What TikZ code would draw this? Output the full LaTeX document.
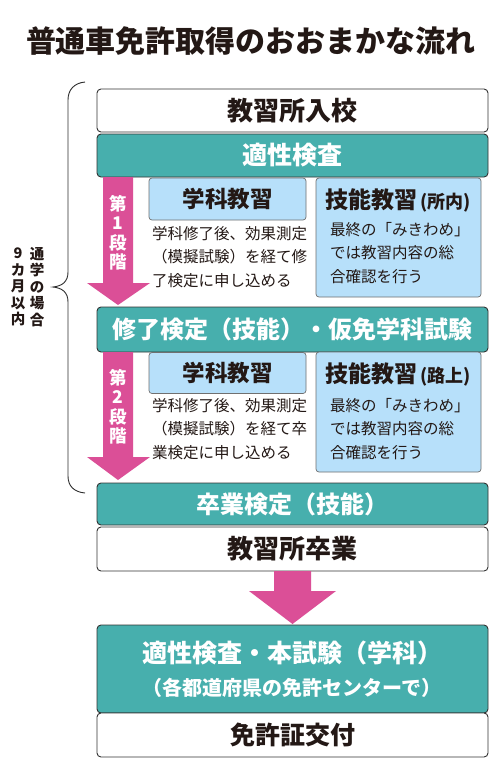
\documentclass[tikz,border=0pt]{standalone}
\usepackage{fontspec}
\setmainfont{Noto Sans CJK JP}
\definecolor{teal1}{HTML}{47AFAD}
\definecolor{pink1}{HTML}{DB4F97}
\definecolor{lblue}{HTML}{B7E0FA}
\definecolor{edge}{HTML}{333333}
\definecolor{txt}{HTML}{231815}
\tikzset{
  box/.style={draw=edge, line width=0.9pt, rounded corners=4pt, minimum width=391pt, inner sep=0pt, text=txt, font=\bfseries\fontsize{25}{28}\selectfont},
  whitebox/.style={box, fill=white},
  tealbox/.style={box, fill=teal1, text=white},
  bluebox/.style={draw=edge!70, line width=0.7pt, rounded corners=3pt, fill=lblue, inner sep=0pt},
  bodytxt/.style={text=txt, align=left, inner sep=0pt, font=\fontsize{15.5}{23.5}\selectfont},
  parrow/.style={fill=pink1, draw=none},
}
\begin{document}
\begin{tikzpicture}[x=1pt,y=-1pt]
\path[use as bounding box, fill=white] (0,0) rectangle (500,774);
% title
\node[text=txt, font=\bfseries\fontsize{30}{34}\selectfont] (title) at (251,41) {普通車免許取得のおおまかな流れ};
% main boxes
\node[whitebox, minimum height=43pt, font=\bfseries\fontsize{26}{28}\selectfont] (enroll) at (292.5,110.5) {教習所入校};
\node[tealbox, minimum height=43pt] (apt1) at (292.5,155.5) {適性検査};
% stage 1 arrow
\path[parrow] (103,177) -- (133,177) -- (133,283) -- (150,283) -- (118,305) -- (87,283) -- (103,283) -- cycle;
\node[text=white, font=\bfseries\fontsize{17.5}{19.5}\selectfont, align=center, inner sep=0pt] (st1) at (118,233) {第\\1\\段\\階};
% stage 1 boxes
\node[bluebox, minimum width=157pt, minimum height=42pt, font=\bfseries\fontsize{22.5}{25}\selectfont, text=txt] (gk1) at (227.5,199) {学科教習};
\node[bodytxt, anchor=north west] (gk1t) at (152,226) {学科修了後、効果測定\\（模擬試験）を経て修\\了検定に申し込める};
\node[bluebox, minimum width=165pt, minimum height=119pt] (sk1) at (398.5,237.5) {};
\node[text=txt, inner sep=0pt] (sk1h) at (398,200) {\bfseries\fontsize{23}{25}\selectfont 技能教習\fontsize{18}{20}\selectfont\hspace{3pt}(所内)};
\node[bodytxt, anchor=north west] (sk1t) at (330,222) {最終の「みきわめ」\\では教習内容の総\\合確認を行う};
% mid box
\node[tealbox, minimum height=45pt, font=\bfseries\fontsize{24}{28}\selectfont] (kari) at (292.5,329.5) {修了検定（技能）・仮免学科試験};
% stage 2 arrow
\path[parrow] (103,352) -- (133,352) -- (133,457) -- (150,457) -- (118,480) -- (87,457) -- (103,457) -- cycle;
\node[text=white, font=\bfseries\fontsize{17.5}{19.5}\selectfont, align=center, inner sep=0pt] (st2) at (118,407) {第\\2\\段\\階};
% stage 2 boxes
\node[bluebox, minimum width=157pt, minimum height=41pt, font=\bfseries\fontsize{22.5}{25}\selectfont, text=txt] (gk2) at (227.5,373) {学科教習};
\node[bodytxt, anchor=north west] (gk2t) at (152,398) {学科修了後、効果測定\\（模擬試験）を経て卒\\業検定に申し込める};
\node[bluebox, minimum width=165pt, minimum height=120pt] (sk2) at (398.5,412) {};
\node[text=txt, inner sep=0pt] (sk2h) at (398,374) {\bfseries\fontsize{23}{25}\selectfont 技能教習\fontsize{18}{20}\selectfont\hspace{3pt}(路上)};
\node[bodytxt, anchor=north west] (sk2t) at (330,398) {最終の「みきわめ」\\では教習内容の総\\合確認を行う};
% lower boxes
\node[tealbox, minimum height=42pt, font=\bfseries\fontsize{24}{28}\selectfont] (sotsuken) at (292.5,504) {卒業検定（技能）};
\node[whitebox, minimum height=44pt, font=\bfseries\fontsize{26}{28}\selectfont] (grad) at (292.5,549) {教習所卒業};
\path[parrow] (274,571) -- (311,571) -- (311,591) -- (336,591) -- (292.5,624) -- (249,591) -- (274,591) -- cycle;
\node[tealbox, minimum height=88pt] (honshi) at (292.5,669) {};
\node[text=white, font=\bfseries\fontsize{25}{28}\selectfont, inner sep=0pt] (honshi1) at (292,653) {適性検査・本試験（学科）};
\node[text=white, font=\bfseries\fontsize{20}{24}\selectfont, inner sep=0pt] (honshi2) at (292,688) {（各都道府県の免許センターで）};
\node[whitebox, minimum height=44pt, font=\bfseries\fontsize{25}{28}\selectfont] (license) at (292.5,735) {免許証交付};
% brace
\draw[edge!90!black, line width=0.9pt] (85,82) .. controls (74,83) and (68,90) .. (68,100)
  -- (68,272) .. controls (68,282) and (62,286) .. (53,287)
  .. controls (62,288) and (68,292) .. (68,302)
  -- (68,476) .. controls (68,486) and (74,492) .. (85,493);
\node[text=txt, font=\bfseries\fontsize{14.5}{16.5}\selectfont, align=center, inner sep=0pt] (brace1) at (37,287) {通\\学\\の\\場\\合};
\node[text=txt, font=\bfseries\fontsize{14.5}{16.5}\selectfont, align=center, inner sep=0pt] (brace2) at (18,287) {9\\カ\\月\\以\\内};
\end{tikzpicture}
\end{document}
